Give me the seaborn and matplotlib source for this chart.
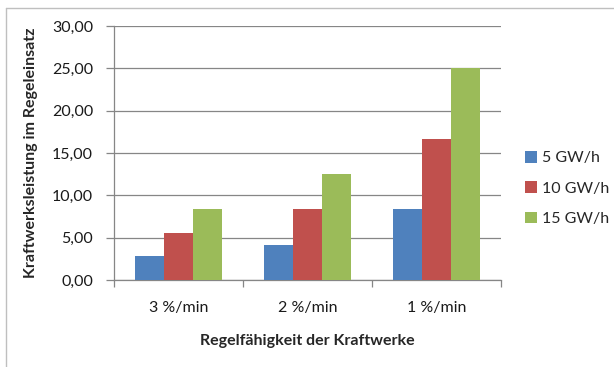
import matplotlib
matplotlib.use("Agg")
import matplotlib.pyplot as plt
import seaborn as sns
import pandas as pd
from matplotlib.ticker import FuncFormatter, FixedLocator
from matplotlib.lines import Line2D

categories = ["3 %/min", "2 %/min", "1 %/min"]
series = ["5 GW/h", "10 GW/h", "15 GW/h"]
values_5 = [2.78, 4.17, 8.33]
values_10 = [5.56, 8.33, 16.67]
values_15 = [8.33, 12.50, 25.00]
colors = ["#4F81BD", "#C0504D", "#9BBB59"]

rows = []
for s, vals in zip(series, [values_5, values_10, values_15]):
    for c, v in zip(categories, vals):
        rows.append({"cat": c, "series": s, "val": v})
df = pd.DataFrame(rows)

sns.set_theme(style="white")
plt.rcParams["font.family"] = ["Lato", "DejaVu Sans"]

fig = plt.figure(figsize=(6.14, 3.67), dpi=100)
ax = fig.add_axes([114/614, 1-280/367, (501-114)/614, (280-26)/367])

sns.barplot(data=df, x="cat", y="val", hue="series", order=categories,
            hue_order=series, palette=colors, width=0.675, ax=ax,
            saturation=1, edgecolor="none", linewidth=0, errorbar=None, zorder=3)

ax.set_ylim(0, 30)
ax.set_xlim(-0.5, 2.5)
ax.set_yticks([0, 5, 10, 15, 20, 25, 30])
ax.yaxis.set_major_formatter(FuncFormatter(lambda v, p: f"{v:.2f}".replace(".", ",")))
ax.yaxis.grid(True, color="#868686", linewidth=0.9, zorder=0)
ax.set_axisbelow(True)
for s in ["top", "right"]:
    ax.spines[s].set_visible(False)
for s in ["left", "bottom"]:
    ax.spines[s].set_color("#868686")
    ax.spines[s].set_linewidth(0.9)

ax.tick_params(axis="y", which="major", length=6, width=0.9, color="#868686",
               direction="out", labelsize=11.5, pad=9, left=True, labelcolor="#1a1a1a")
ax.tick_params(axis="x", which="major", length=0, labelsize=11.5, pad=15, labelcolor="#1a1a1a")
ax.xaxis.set_minor_locator(FixedLocator([-0.5, 0.5, 1.5, 2.5]))
ax.tick_params(axis="x", which="minor", length=5, width=0.9, color="#868686",
               direction="out", bottom=True)

ax.set_xlabel("Regelfähigkeit der Kraftwerke", fontsize=11.5, fontweight="bold",
              labelpad=14)
ax.set_ylabel("Kraftwerksleistung im Regeleinsatz", fontsize=11.5,
              fontweight="bold", labelpad=10)

leg = ax.legend(loc="center left", bbox_to_anchor=(1.045, 0.36), frameon=False,
                fontsize=11.5, handlelength=0.75, handleheight=0.75,
                handletextpad=0.3, labelspacing=1.0, borderaxespad=0)

fig.add_artist(Line2D([6/614, 1], [1-8/367, 1-8/367], transform=fig.transFigure,
                      color="#BFBFBF", linewidth=1))
fig.add_artist(Line2D([6/614, 6/614], [0, 1-8/367], transform=fig.transFigure,
                      color="#BFBFBF", linewidth=1))

fig.savefig("out.png", dpi=100)
